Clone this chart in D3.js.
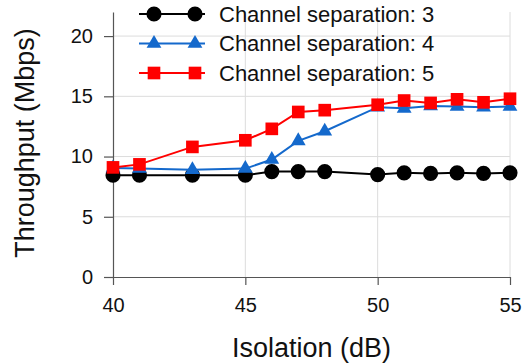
<!doctype html>
<meta charset="utf-8">
<style>
body { margin: 0; background: #fff; }
svg { display: block; font-family: "Liberation Sans", Arial, Helvetica, sans-serif; }
.grid line { stroke: #dcdcdc; stroke-width: 1; }
.axis path, .axis line { stroke: #555; stroke-width: 1.2; }
.axis text { fill: #111; font-size: 20px; }
</style>
<div id="chart"></div>
<script src="https://cdn.jsdelivr.net/npm/d3@7"></script>
<script>
// isolation values (dB)
var isolation = [40, 41, 43, 45, 46, 47, 48, 50, 51, 52, 53, 54, 55];

// throughput per channel separation (Mbps)
var sep3 = [8.45, 8.45, 8.45, 8.45, 8.75, 8.75, 8.75, 8.5, 8.65, 8.6, 8.65, 8.6, 8.65];
var sep4 = [9.05, 9.0, 8.9, 9.0, 9.75, 11.3, 12.1, 14.1, 14.0, 14.2, 14.15, 14.1, 14.15];
var sep5 = [9.1, 9.35, 10.8, 11.35, 12.3, 13.7, 13.85, 14.3, 14.65, 14.45, 14.75, 14.5, 14.8];

var seriesNames = ['Channel separation: 3', 'Channel separation: 4', 'Channel separation: 5'];
var xTicks = [40, 45, 50, 55];
var yTicks = [0, 5, 10, 15, 20];

var width = 532, height = 363;
var margin = {top: 12, right: 22, bottom: 86, left: 113};
var innerW = width - margin.left - margin.right;
var innerH = height - margin.top - margin.bottom;

var series = [
    {name: seriesNames[0], values: sep3, color: '#000000', shape: 'circle'},
    {name: seriesNames[1], values: sep4, color: '#1469cc', shape: 'triangle'},
    {name: seriesNames[2], values: sep5, color: '#ff0000', shape: 'square'}
];

var svg = d3.select('#chart').append('svg')
    .attr('width', width)
    .attr('height', height);

var g = svg.append('g')
    .attr('transform', 'translate(' + margin.left + ',' + margin.top + ')');

var x = d3.scaleLinear().domain([40, 55]).range([0, innerW]);
var y = d3.scaleLinear().domain([0, 22]).range([innerH, 0]);

// grid
g.append('g').attr('class', 'grid')
    .selectAll('line.v').data(xTicks.slice(1)).enter().append('line')
    .attr('x1', function (d) { return x(d); })
    .attr('x2', function (d) { return x(d); })
    .attr('y1', 0).attr('y2', innerH);
g.append('g').attr('class', 'grid')
    .selectAll('line.h').data(yTicks.slice(1)).enter().append('line')
    .attr('x1', 0).attr('x2', innerW)
    .attr('y1', function (d) { return y(d); })
    .attr('y2', function (d) { return y(d); });

// axes
g.append('g').attr('class', 'axis')
    .attr('transform', 'translate(0,' + innerH + ')')
    .call(d3.axisBottom(x).tickValues(xTicks).tickSize(8).tickSizeOuter(0).tickPadding(13));
g.append('g').attr('class', 'axis')
    .call(d3.axisLeft(y).tickValues(yTicks).tickSize(9).tickSizeOuter(0).tickPadding(11));

// axis titles
svg.append('text')
    .attr('x', margin.left + innerW / 2)
    .attr('y', 357)
    .attr('text-anchor', 'middle')
    .style('font-size', '27px')
    .style('fill', '#111')
    .text('Isolation (dB)');
svg.append('text')
    .attr('transform', 'translate(34,143) rotate(-90)')
    .attr('text-anchor', 'middle')
    .style('font-size', '27px')
    .style('fill', '#111')
    .text('Throughput (Mbps)');

var sym = {
    circle: d3.symbol().type(d3.symbolCircle).size(180),
    triangle: d3.symbol().type(d3.symbolTriangle).size(95),
    square: d3.symbol().type(d3.symbolSquare).size(160)
};

var line = d3.line()
    .x(function (d) { return x(d.x); })
    .y(function (d) { return y(d.y); });

series.forEach(function (s) {
    var pts = isolation.map(function (v, i) { return {x: v, y: s.values[i]}; });
    g.append('path')
        .datum(pts)
        .attr('fill', 'none')
        .attr('stroke', s.color)
        .attr('stroke-width', 2)
        .attr('d', line);
    g.selectAll('path.m-' + s.shape).data(pts).enter().append('path')
        .attr('class', 'm-' + s.shape)
        .attr('transform', function (d) { return 'translate(' + x(d.x) + ',' + y(d.y) + ')'; })
        .attr('d', sym[s.shape])
        .attr('fill', s.color);
});

// legend
var legend = svg.append('g').attr('transform', 'translate(139,14)');
var rows = legend.selectAll('g.row').data(series).enter().append('g')
    .attr('class', 'row')
    .attr('transform', function (d, i) { return 'translate(0,' + (i * 29.5) + ')'; });
rows.append('line')
    .attr('x1', 0).attr('x2', 66)
    .attr('y1', 0).attr('y2', 0)
    .attr('stroke', function (d) { return d.color; })
    .attr('stroke-width', 2);
rows.each(function (d) {
    d3.select(this).selectAll('path.lm').data([15, 56]).enter().append('path')
        .attr('class', 'lm')
        .attr('transform', function (px) { return 'translate(' + px + ',0)'; })
        .attr('d', sym[d.shape])
        .attr('fill', d.color);
});
rows.append('text')
    .attr('x', 80)
    .attr('y', 0)
    .attr('dy', '0.36em')
    .style('font-size', '22px')
    .style('fill', '#111')
    .text(function (d) { return d.name; });
</script>
